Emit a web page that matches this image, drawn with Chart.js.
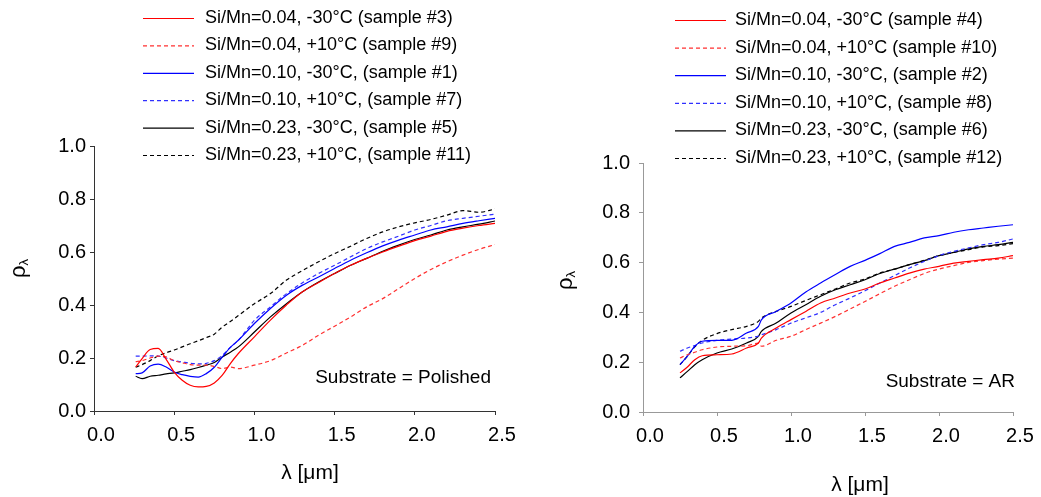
<!DOCTYPE html>
<html>
<head>
<meta charset="utf-8">
<script src="https://cdn.jsdelivr.net/npm/chart.js@4.4.1/dist/chart.umd.min.js"></script>
<style>
  body { margin: 0; background: #fff; }
  #wrap { position: relative; width: 1041px; height: 497px; }
  .box { position: absolute; top: 0; height: 497px; }
</style>
</head>
<body>
<div id="wrap">
  <div class="box" style="left:0;width:520px"><canvas id="polished"></canvas></div>
  <div class="box" style="left:520px;width:521px"><canvas id="ar"></canvas></div>
</div>
<script>
// tick labels
const xTickLabels = ["0.0", "0.5", "1.0", "1.5", "2.0", "2.5"];
const yTickLabels = ["0.0", "0.2", "0.4", "0.6", "0.8", "1.0"];

// wavelength [um], polished substrate
const lambdaPolished = [0.26, 0.3, 0.35, 0.4, 0.45, 0.5, 0.55, 0.6, 0.65, 0.7, 0.75, 0.8, 0.85, 0.9,
  1.0, 1.1, 1.2, 1.3, 1.4, 1.5, 1.6, 1.7, 1.8, 1.9, 2.0, 2.1, 2.2, 2.3, 2.4, 2.5];
const polishedLabels = [
  "Si/Mn=0.04, -30°C (sample #3)",
  "Si/Mn=0.04, +10°C (sample #9)",
  "Si/Mn=0.10, -30°C, (sample #1)",
  "Si/Mn=0.10, +10°C, (sample #7)",
  "Si/Mn=0.23, -30°C, (sample #5)",
  "Si/Mn=0.23, +10°C, (sample #11)"
];
const sample3 = [0.166, 0.198, 0.232, 0.236, 0.195, 0.147, 0.116, 0.097, 0.091, 0.093, 0.106, 0.135, 0.179, 0.217,
  0.28, 0.343, 0.40, 0.45, 0.485, 0.519, 0.55, 0.576, 0.60, 0.622, 0.643, 0.66, 0.678, 0.69, 0.70, 0.708];
const sample9 = [0.186, 0.19, 0.20, 0.207, 0.204, 0.19, 0.182, 0.175, 0.173, 0.173, 0.168, 0.16, 0.166, 0.16,
  0.173, 0.19, 0.219, 0.248, 0.286, 0.32, 0.355, 0.393, 0.424, 0.462, 0.50, 0.534, 0.563, 0.588, 0.61, 0.628];
const sample1 = [0.141, 0.144, 0.17, 0.177, 0.166, 0.147, 0.137, 0.131, 0.128, 0.141, 0.165, 0.204, 0.24, 0.267,
  0.33, 0.387, 0.437, 0.475, 0.506, 0.538, 0.569, 0.597, 0.623, 0.645, 0.664, 0.683, 0.695, 0.708, 0.718, 0.727];
const sample7 = [0.207, 0.207, 0.208, 0.207, 0.20, 0.19, 0.185, 0.18, 0.178, 0.18, 0.19, 0.21, 0.24, 0.267,
  0.342, 0.393, 0.443, 0.484, 0.519, 0.55, 0.582, 0.613, 0.638, 0.66, 0.683, 0.70, 0.718, 0.727, 0.735, 0.743];
const sample5 = [0.131, 0.122, 0.131, 0.135, 0.14, 0.144, 0.15, 0.156, 0.164, 0.173, 0.183, 0.204, 0.222, 0.242,
  0.298, 0.355, 0.405, 0.45, 0.487, 0.519, 0.55, 0.576, 0.603, 0.626, 0.647, 0.664, 0.683, 0.695, 0.705, 0.717];
const sample11 = [0.165, 0.175, 0.19, 0.208, 0.22, 0.23, 0.242, 0.254, 0.265, 0.277, 0.29, 0.317, 0.338, 0.36,
  0.405, 0.443, 0.494, 0.53, 0.563, 0.594, 0.622, 0.651, 0.676, 0.695, 0.71, 0.723, 0.739, 0.756, 0.75, 0.762];

// wavelength [um], AR substrate
const lambdaAR = [0.25, 0.3, 0.35, 0.4, 0.5, 0.6, 0.7, 0.78, 0.8, 0.9,
  1.0, 1.1, 1.2, 1.3, 1.4, 1.5, 1.6, 1.7, 1.8, 1.9, 2.0, 2.1, 2.2, 2.3, 2.4, 2.5];
const arLabels = [
  "Si/Mn=0.04, -30°C (sample #4)",
  "Si/Mn=0.04, +10°C (sample #10)",
  "Si/Mn=0.10, -30°C, (sample #2)",
  "Si/Mn=0.10, +10°C, (sample #8)",
  "Si/Mn=0.23, -30°C, (sample #6)",
  "Si/Mn=0.23, +10°C, (sample #12)"
];
const sample4 = [0.157, 0.181, 0.21, 0.226, 0.23, 0.233, 0.257, 0.277, 0.297, 0.337,
  0.371, 0.404, 0.438, 0.458, 0.478, 0.494, 0.518, 0.538, 0.558, 0.574, 0.585, 0.598, 0.605, 0.612, 0.618, 0.628];
const sample10 = [0.217, 0.23, 0.24, 0.25, 0.261, 0.264, 0.266, 0.277, 0.264, 0.288,
  0.304, 0.331, 0.357, 0.384, 0.414, 0.444, 0.475, 0.505, 0.531, 0.556, 0.574, 0.588, 0.601, 0.608, 0.614, 0.618];
const sample2 = [0.19, 0.224, 0.264, 0.284, 0.288, 0.288, 0.317, 0.344, 0.37, 0.404,
  0.438, 0.482, 0.518, 0.552, 0.585, 0.609, 0.636, 0.665, 0.681, 0.699, 0.708, 0.722, 0.732, 0.739, 0.746, 0.752];
const sample8 = [0.244, 0.257, 0.267, 0.277, 0.288, 0.293, 0.297, 0.305, 0.31, 0.331,
  0.357, 0.378, 0.40, 0.431, 0.458, 0.487, 0.518, 0.548, 0.578, 0.605, 0.628, 0.645, 0.659, 0.672, 0.681, 0.695];
const sample6 = [0.137, 0.163, 0.19, 0.21, 0.237, 0.253, 0.277, 0.304, 0.324, 0.357,
  0.398, 0.431, 0.465, 0.491, 0.511, 0.531, 0.556, 0.574, 0.592, 0.608, 0.628, 0.641, 0.655, 0.665, 0.672, 0.681];
const sample12 = [0.19, 0.224, 0.262, 0.288, 0.315, 0.331, 0.344, 0.364, 0.377, 0.404,
  0.424, 0.448, 0.471, 0.494, 0.518, 0.534, 0.558, 0.574, 0.592, 0.609, 0.628, 0.641, 0.652, 0.663, 0.668, 0.676];

const FONT = "'Liberation Sans', Arial, sans-serif";
const seriesStyle = [
  { color: "#ff0000", dash: [] },
  { color: "#ff3030", dash: [4, 3] },
  { color: "#0000ff", dash: [] },
  { color: "#3030ff", dash: [4, 3] },
  { color: "#000000", dash: [] },
  { color: "#000000", dash: [4, 3] }
];

function toPoints(xs, ys) {
  return xs.map((x, i) => ({ x: x, y: ys[i] }));
}

function buildDatasets(xs, labels, series) {
  return series.map((ys, i) => ({
    label: labels[i],
    data: toPoints(xs, ys),
    borderColor: seriesStyle[i].color,
    borderDash: seriesStyle[i].dash,
    borderWidth: 1.2,
    pointRadius: 0,
    fill: false,
    cubicInterpolationMode: "monotone"
  }));
}

// legend rows, axis titles and the substrate note
const textPlugin = {
  id: "panelText",
  afterDraw(chart, args, o) {
    const ctx = chart.ctx;
    ctx.save();
    // legend
    ctx.font = "18px " + FONT;
    ctx.textBaseline = "middle";
    ctx.textAlign = "left";
    chart.data.datasets.forEach((ds, i) => {
      const y = o.rowY + i * o.rowStep;
      ctx.strokeStyle = ds.borderColor;
      ctx.lineWidth = 1.2;
      ctx.setLineDash(ds.borderDash);
      ctx.beginPath();
      ctx.moveTo(o.lineX0, y + 0.5);
      ctx.lineTo(o.lineX1, y + 0.5);
      ctx.stroke();
      ctx.fillStyle = "#000";
      ctx.fillText(ds.label, o.textX, y);
    });
    ctx.setLineDash([]);

    // x title
    ctx.font = "21px " + FONT;
    ctx.textAlign = "center";
    ctx.fillText("λ [μm]", o.xTitleX, o.xTitleY);

    // y title: rho with subscript lambda
    ctx.translate(o.yTitleX, o.yTitleY);
    ctx.rotate(-Math.PI / 2);
    ctx.textAlign = "left";
    ctx.textBaseline = "alphabetic";
    ctx.font = "22px " + FONT;
    ctx.fillText("ρ", 0, 0);
    const w = ctx.measureText("ρ").width;
    ctx.font = "13px " + FONT;
    ctx.fillText("λ", w, 3);
    ctx.setTransform(1, 0, 0, 1, 0, 0);
    ctx.restore();

    ctx.save();
    ctx.font = "19px " + FONT;
    ctx.fillStyle = "#000";
    ctx.textAlign = "right";
    ctx.textBaseline = "middle";
    ctx.fillText(o.note, o.noteX, o.noteY);
    ctx.restore();
  }
};

function makeChart(id, xs, labels, series, cfg) {
  const axis = cfg.axisColor;
  return new Chart(document.getElementById(id), {
    type: "line",
    data: { datasets: buildDatasets(xs, labels, series) },
    plugins: [textPlugin],
    options: {
      responsive: true,
      maintainAspectRatio: false,
      animation: false,
      layout: { padding: { top: cfg.top, right: cfg.right, left: 0, bottom: 0 }, autoPadding: false },
      plugins: {
        legend: { display: false },
        tooltip: { enabled: false },
        panelText: cfg.text
      },
      scales: {
        x: {
          type: "linear",
          min: 0,
          max: 2.5,
          afterBuildTicks: (s) => { s.ticks = xTickLabels.map((t) => ({ value: parseFloat(t) })); },
          afterFit: (s) => { s.height = cfg.xHeight; },
          ticks: {
            callback: (v, i) => xTickLabels[i],
            color: "#000",
            font: { family: FONT, size: 20 },
            labelOffset: 7,
            padding: 8,
            maxRotation: 0,
            autoSkip: false
          },
          grid: { drawOnChartArea: false, drawTicks: true, tickLength: 4, tickColor: axis },
          border: { color: axis, width: 1 }
        },
        y: {
          min: 0,
          max: 1,
          afterBuildTicks: (s) => { s.ticks = yTickLabels.map((t) => ({ value: parseFloat(t) })); },
          afterFit: (s) => { s.width = cfg.yWidth; },
          ticks: {
            callback: (v, i) => yTickLabels[i],
            color: "#000",
            font: { family: FONT, size: 20 },
            padding: cfg.yPad
          },
          grid: { drawOnChartArea: false, drawTicks: true, tickLength: 4, tickColor: axis },
          border: { color: axis, width: 1 }
        }
      }
    }
  });
}

makeChart("polished", lambdaPolished, polishedLabels,
  [sample3, sample9, sample1, sample7, sample5, sample11], {
    axisColor: "#333333", top: 146, right: 25, xHeight: 86, yWidth: 94, yPad: 4,
    text: {
      lineX0: 143, lineX1: 194, textX: 205, rowY: 18, rowStep: 27.4,
      xTitleX: 310, xTitleY: 473, yTitleX: 24.5, yTitleY: 278,
      note: "Substrate = Polished", noteX: 491, noteY: 378
    }
  });

makeChart("ar", lambdaAR, arLabels,
  [sample4, sample10, sample2, sample8, sample6, sample12], {
    axisColor: "#999999", top: 163, right: 28, xHeight: 85, yWidth: 123, yPad: 9,
    text: {
      lineX0: 155, lineX1: 206, textX: 215, rowY: 20, rowStep: 27.6,
      xTitleX: 340, xTitleY: 485, yTitleX: 51.5, yTitleY: 290,
      note: "Substrate = AR", noteX: 495, noteY: 382
    }
  });
</script>
</body>
</html>
